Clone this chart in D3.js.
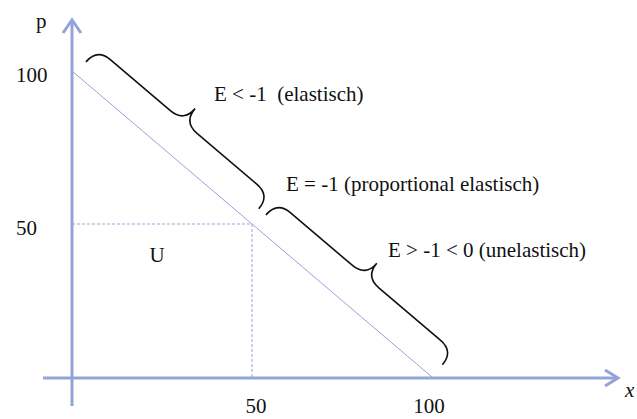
<!DOCTYPE html>
<html><head><meta charset="utf-8">
<script src="https://cdn.jsdelivr.net/npm/d3@7"></script>
<style>body{margin:0;background:#fff}svg{display:block}text{font-family:"Liberation Serif","Times New Roman",serif;fill:#111}</style>
</head><body><svg id="c" width="637" height="419"></svg>
<script>
// ---- data ----
const demandQ = [0, 100];
const demandP = [100, 0];
const refPoint = [50, 50];
const xTicks = [50, 100];
const yTicks = [50, 100];
const braceRanges = [[1, 49], [51, 100]];
const elasticityLabels = ["E < -1  (elastisch)", "E = -1 (proportional elastisch)", "E > -1 < 0 (unelastisch)"];
const areaLabel = "U";
const axisLabels = ["x", "p"];

const W = 637, H = 419;
const svg = d3.select("#c");
const x = d3.scaleLinear().domain([0, 100]).range([72, 432]);
const y = d3.scaleLinear().domain([0, 100]).range([377, 71]);
const axisColor = "#94a3da";

// axes
const ox = x(0), oy = y(0) + 1;
svg.append("line").attr("x1", ox).attr("y1", 406).attr("x2", ox).attr("y2", 20)
  .attr("stroke", axisColor).attr("stroke-width", 3);
svg.append("path").attr("d", `M${ox-9},${33} L${ox},${20} L${ox+9},${33}`)
  .attr("fill", "none").attr("stroke", axisColor).attr("stroke-width", 3);
svg.append("line").attr("x1", 43).attr("y1", oy).attr("x2", 618).attr("y2", oy)
  .attr("stroke", axisColor).attr("stroke-width", 3);
svg.append("path").attr("d", `M${605},${oy-8} L${618},${oy} L${605},${oy+8}`)
  .attr("fill", "none").attr("stroke", axisColor).attr("stroke-width", 3);

// reference dashed lines
svg.append("path")
  .attr("d", `M${x(0)},${y(refPoint[1])} L${x(refPoint[0])},${y(refPoint[1])} L${x(refPoint[0])},${y(0)}`)
  .attr("fill", "none").attr("stroke", axisColor).attr("stroke-width", 1).attr("stroke-dasharray", "3,2");

// demand line
const line = d3.line().x(d => x(d[0])).y(d => y(d[1]));
svg.append("path").datum(demandQ.map((q, i) => [q, demandP[i]])).attr("d", line)
  .attr("fill", "none").attr("stroke", axisColor).attr("stroke-width", 1);

// braces
const off = 16, r = 17.5;
function bracePath(q1, q2) {
  const p1 = [x(q1), y(100 - q1)], p2 = [x(q2), y(100 - q2)];
  const dx = p2[0] - p1[0], dy = p2[1] - p1[1];
  const len = Math.hypot(dx, dy);
  const u = [dx / len, dy / len];
  const n = [u[1], -u[0]]; // outward (up-right)
  const P = (a, b) => {
    const px = p1[0] + u[0] * a + n[0] * (b + off);
    const py = p1[1] + u[1] * a + n[1] * (b + off);
    return px.toFixed(2) + "," + py.toFixed(2);
  };
  const L = len, m = L / 2;
  return `M${P(0,0)} Q${P(0,r)} ${P(r,r)} L${P(m-r,r)} Q${P(m,r)} ${P(m,2*r)} Q${P(m,r)} ${P(m+r,r)} L${P(L-r,r)} Q${P(L,r)} ${P(L,0)}`;
}
svg.selectAll("path.brace").data(braceRanges).join("path").attr("class", "brace")
  .attr("d", d => bracePath(d[0], d[1]))
  .attr("fill", "none").attr("stroke", "#111").attr("stroke-width", 1.6);

// labels
const fsE = 21, fsT = 21;
const lblPos = [[214, 101], [286, 191], [388, 257]];
svg.selectAll("text.e").data(elasticityLabels).join("text").attr("class", "e")
  .attr("x", (d, i) => lblPos[i][0]).attr("y", (d, i) => lblPos[i][1])
  .attr("font-size", fsE).style("white-space", "pre").text(d => d);

svg.append("text").attr("x", 157).attr("y", 262).attr("text-anchor", "middle")
  .attr("font-size", fsT).text(areaLabel);

// y tick labels
svg.selectAll("text.yt").data(yTicks).join("text").attr("class", "yt")
  .attr("x", 16).attr("y", d => y(d) + 11)
  .attr("font-size", fsT).text(d => d);
// x tick labels
svg.selectAll("text.xt").data(xTicks).join("text").attr("class", "xt")
  .attr("x", d => x(d) + (d === 100 ? -3 : 4)).attr("y", 413)
  .attr("text-anchor", "middle").attr("font-size", fsT).text(d => d);

svg.append("text").attr("x", 625).attr("y", 397).attr("font-size", fsT)
  .attr("font-style", "italic").text(axisLabels[0]);
svg.append("text").attr("x", 36).attr("y", 28).attr("font-size", fsT).text(axisLabels[1]);
</script></body></html>
